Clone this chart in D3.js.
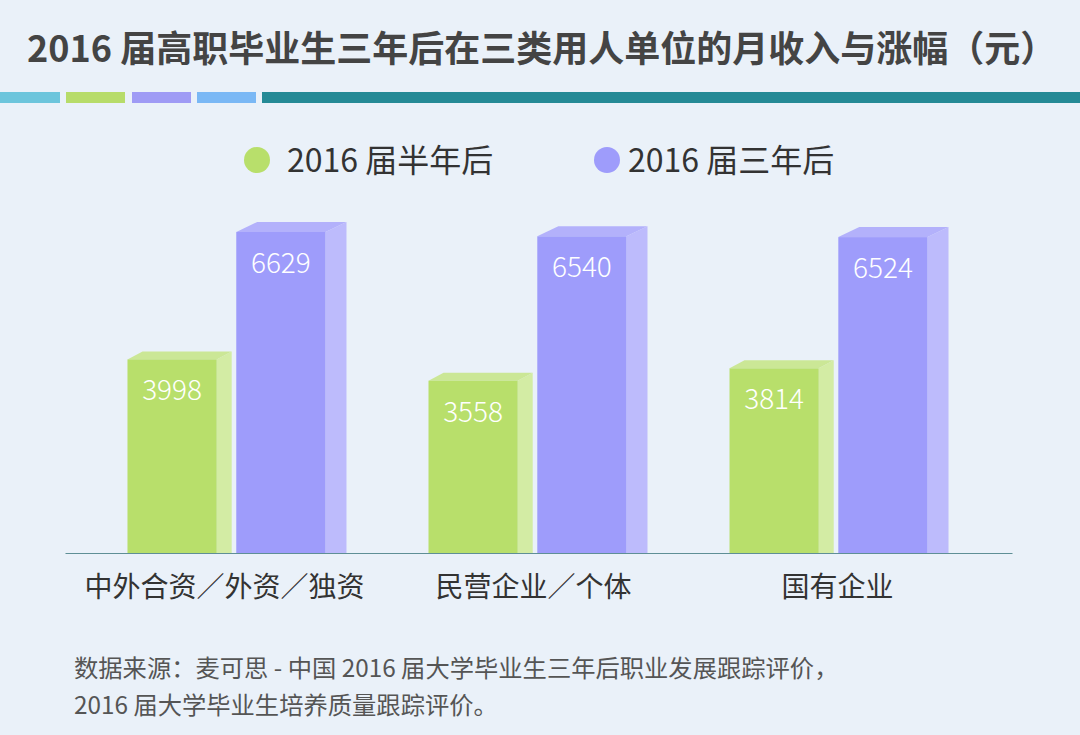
<!DOCTYPE html>
<html><head><meta charset="utf-8">
<script src="https://cdn.jsdelivr.net/npm/d3@7/dist/d3.min.js"></script>
<style>
html,body{margin:0;padding:0;background:#eaf1f9;}
svg{display:block;font-family:"Noto Sans CJK SC","Noto Sans",sans-serif;}
</style></head>
<body>
<svg id="chart" width="1080" height="735"></svg>
<script>
const title = "2016 届高职毕业生三年后在三类用人单位的月收入与涨幅（元）";
const categories = ["中外合资／外资／独资", "民营企业／个体", "国有企业"];
const series = ["2016 届半年后", "2016 届三年后"];
const halfYear = [3998, 3558, 3814];
const threeYear = [6629, 6540, 6524];
const sourceLines = ["数据来源：麦可思 - 中国 2016 届大学毕业生三年后职业发展跟踪评价，", "2016 届大学毕业生培养质量跟踪评价。"];
const stripColors = ["#6cc5dc", "#b7dc6a", "#9f9bf5", "#7ab8f5", "#258a96"];

const svg = d3.select("#chart");
const W = 1080, H = 735;
svg.append("rect").attr("width", W).attr("height", H).attr("fill", "#eaf1f9");

// title
svg.append("text").attr("x", 27).attr("y", 62).attr("font-size", 36).attr("font-weight", "bold")
  .attr("fill", "#444").text(title);

// color strip
const stripX = [0, 66, 132, 197, 262];
const stripW = [60, 59, 59, 59, 818];
stripColors.forEach((c, i) => {
  svg.append("rect").attr("x", stripX[i]).attr("y", 92).attr("width", stripW[i]).attr("height", 11).attr("fill", c);
});

// scales
const baseY = 553;
const y = d3.scaleLinear().domain([0, 6629]).range([baseY, 232]);
const x0 = d3.scaleBand().domain(categories).range([65, 1012]).paddingInner(0).paddingOuter(0.073);
const x1 = d3.scaleBand().domain(series).range([-110, 88]).paddingInner(0.18);

const styles = [
  {front: "#b8df6b", side: "#d3eca4", top: "#cbe796", dx: 15, dy: 8},
  {front: "#9e9cfb", side: "#bdbbfc", top: "#b3b1fb", dx: 21, dy: 10}
];
const dataSets = [halfYear, threeYear];

const plot = svg.append("g");
categories.forEach((cat, ci) => {
  const cx = x0(cat) + x0.bandwidth() / 2;
  series.forEach((s, si) => {
    const v = dataSets[si][ci];
    const st = styles[si];
    const xl = cx + x1(s), xr = xl + x1.bandwidth();
    const yt = y(v);
    plot.append("path").attr("fill", st.side)
      .attr("d", `M${xr},${yt} L${xr+st.dx},${yt-st.dy} L${xr+st.dx},${baseY} L${xr},${baseY} Z`);
    plot.append("path").attr("fill", st.top)
      .attr("d", `M${xl},${yt} L${xl+st.dx},${yt-st.dy} L${xr+st.dx},${yt-st.dy} L${xr},${yt} Z`);
    plot.append("rect").attr("x", xl).attr("y", yt).attr("width", xr - xl).attr("height", baseY - yt).attr("fill", st.front);
    plot.append("text").attr("x", (xl + xr) / 2).attr("y", yt + 41).attr("text-anchor", "middle")
      .attr("font-size", 28).attr("font-weight", 300).attr("fill", "#fff").text(v);
  });
});

// axis
const axis = svg.append("g").attr("transform", `translate(0,${baseY})`)
  .call(d3.axisBottom(x0).tickSize(0).tickPadding(24));
axis.select(".domain").attr("stroke", "#5f8f96").attr("stroke-width", 1.2);
axis.selectAll(".tick text").attr("font-size", 28).attr("fill", "#333")
  .attr("font-family", '"Noto Sans CJK SC",sans-serif')
  .attr("dx", (d, i) => [-13, -5, -2][i]);

// legend
const legColors = [styles[0].front, styles[1].front];
const legX = [257, 607];
series.forEach((s, i) => {
  svg.append("circle").attr("cx", legX[i]).attr("cy", 160).attr("r", 13).attr("fill", legColors[i]);
  svg.append("text").attr("x", legX[i] + (i === 0 ? 30 : 21)).attr("y", 172).attr("font-size", 32)
    .attr("fill", "#333").text(s);
});

// source
sourceLines.forEach((t, i) => {
  svg.append("text").attr("x", 74).attr("y", 677 + i * 37).attr("font-size", 24.3).attr("fill", "#555").text(t);
});
</script>
</body></html>
